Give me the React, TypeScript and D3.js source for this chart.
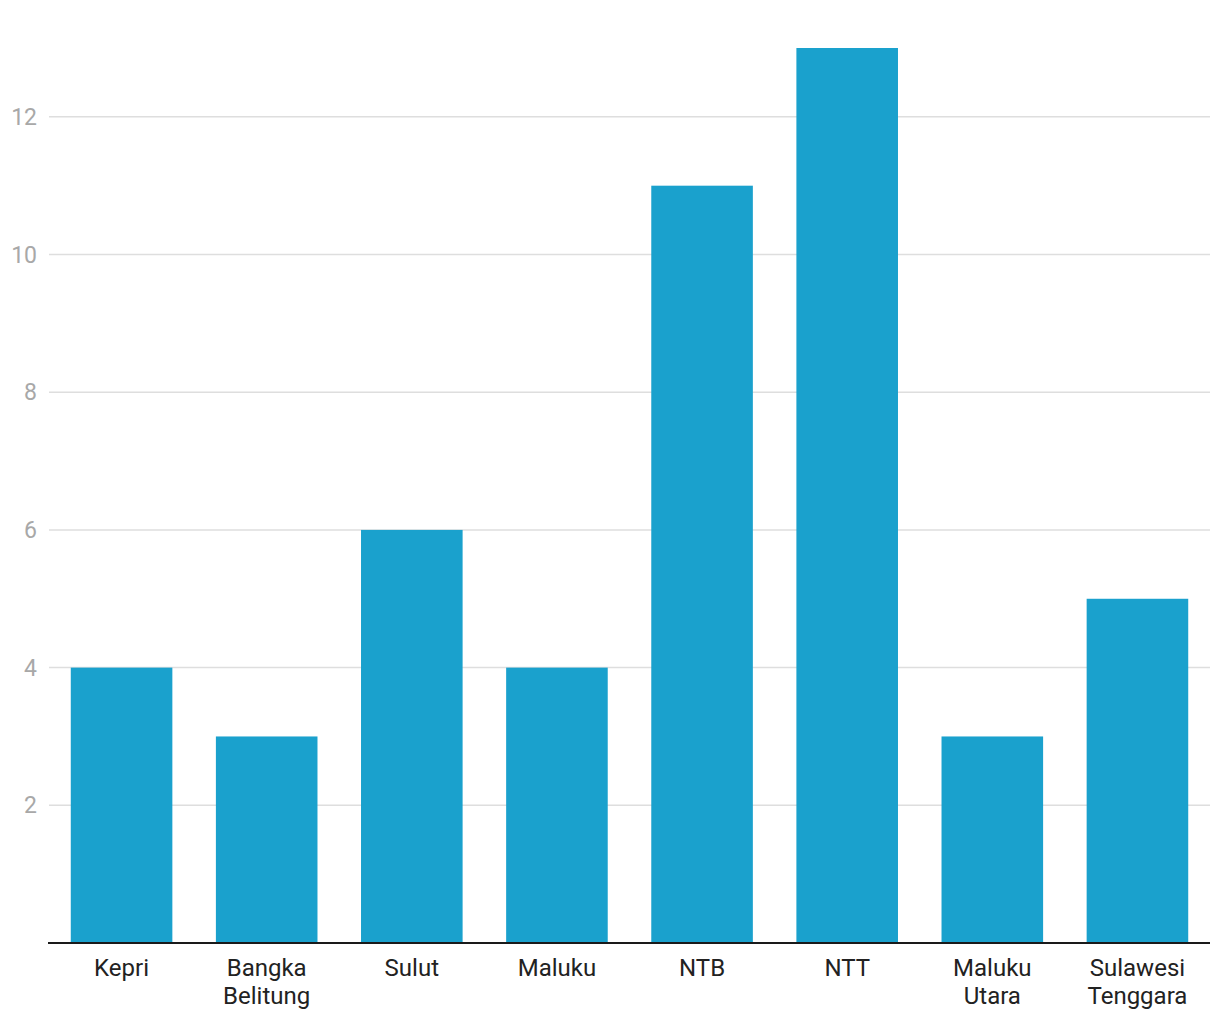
import React, { useRef, useEffect } from "react";
import * as d3 from "d3";

const categories = ["Kepri", "Bangka Belitung", "Sulut", "Maluku", "NTB", "NTT", "Maluku Utara", "Sulawesi Tenggara"];
const values = [4, 3, 6, 4, 11, 13, 3, 5];
const yTicks = [2, 4, 6, 8, 10, 12];

const App = () => {
  const svgRef = useRef<SVGSVGElement>(null);

  useEffect(() => {
    const width = 1220;
    const height = 1020;
    const left = 49;
    const right = 1210;
    const baseline = 943;
    const top = 48;

    const svg = d3.select(svgRef.current)
      .attr("width", width)
      .attr("height", height)
      .style("font-family", "Roboto, sans-serif");
    svg.selectAll("*").remove();

    const x = d3.scaleBand<string>()
      .domain(categories)
      .range([left, right])
      .paddingInner(0.3)
      .paddingOuter(0.15);

    const y = d3.scaleLinear()
      .domain([0, 13])
      .range([baseline, top]);

    // gridlines
    svg.append("g")
      .selectAll("line")
      .data(yTicks)
      .enter()
      .append("line")
      .attr("x1", left)
      .attr("x2", right)
      .attr("y1", d => y(d))
      .attr("y2", d => y(d))
      .attr("stroke", "#dedede")
      .attr("stroke-width", 1.5);

    svg.append("g")
      .selectAll("text")
      .data(yTicks)
      .enter()
      .append("text")
      .attr("x", 37)
      .attr("y", d => y(d))
      .attr("dy", "0.35em")
      .attr("text-anchor", "end")
      .attr("font-size", 23)
      .attr("fill", "#a8a8a8")
      .text(d => d);

    svg.append("g")
      .selectAll("rect")
      .data(values)
      .enter()
      .append("rect")
      .attr("x", (d, i) => x(categories[i]) as number)
      .attr("width", x.bandwidth())
      .attr("y", d => y(d))
      .attr("height", d => baseline - y(d))
      .attr("fill", "#1aa1cd");

    svg.append("line")
      .attr("x1", left - 1)
      .attr("x2", right)
      .attr("y1", baseline)
      .attr("y2", baseline)
      .attr("stroke", "#1a1a1a")
      .attr("stroke-width", 2);

    const labels = svg.append("g")
      .selectAll("text")
      .data(categories)
      .enter()
      .append("text")
      .attr("x", d => (x(d) as number) + x.bandwidth() / 2)
      .attr("y", 976)
      .attr("text-anchor", "middle")
      .attr("font-size", 24)
      .attr("fill", "#222");

    labels.each(function (d) {
      const words = d.split(" ");
      const t = d3.select(this);
      words.forEach((w, i) => {
        t.append("tspan")
          .attr("x", (x(d) as number) + x.bandwidth() / 2)
          .attr("dy", i === 0 ? 0 : 28)
          .text(w);
      });
    });
  }, []);

  return (
    <svg ref={svgRef} style={{ position: "absolute", left: 0, top: 0 }}></svg>
  );
};

export default App;
